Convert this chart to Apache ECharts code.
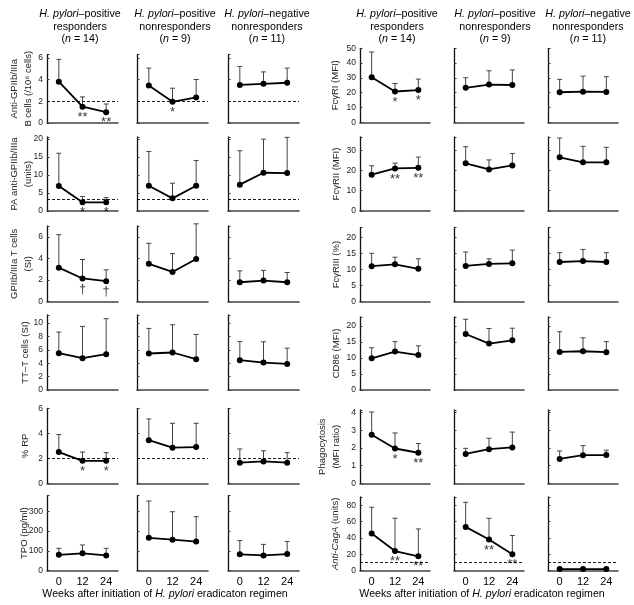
<!DOCTYPE html>
<html>
<head>
<meta charset="utf-8">
<script src="https://cdn.jsdelivr.net/npm/echarts@6/dist/echarts.min.js"></script>
<style>
html, body { margin: 0; padding: 0; background: #fff; }
#chart { width: 634px; height: 605px; }
</style>
</head>
<body>
<div id="chart"></div>
<script>
// x categories (weeks after start of eradication)
const weeks = ['0', '12', '24'];

const headLine1 = ['{i|H. pylori}–positive', '{i|H. pylori}–positive', '{i|H. pylori}–negative'];
const headLine2 = ['responders', 'nonresponders', 'nonresponders'];
const headLine3 = ['({i|n} = 14)', '({i|n} = 9)', '({i|n} = 11)'];
const bottomTitle = 'Weeks after initiation of {i|H. pylori} eradicaton regimen';

// ---- left block ----
const antiBMean = [[3.8, 1.5, 1.0], [3.45, 1.95, 2.35], [3.5, 3.6, 3.7]];
const antiBTop = [[5.85, 2.4, 1.75], [5.05, 3.2, 4.0], [5.2, 4.7, 5.05]];
const antiBMarks = [['', '**', '**'], ['', '*', ''], ['', '', '']];
const antiBTicks = [0, 2, 4, 6];

const paMean = [[6.9, 2.4, 2.4], [7.0, 3.5, 7.0], [7.3, 10.6, 10.5]];
const paTop = [[16.0, 4.0, 3.7], [16.5, 7.7, 14.0], [16.7, 19.9, 20.4]];
const paMarks = [['', '*', '*'], ['', '', ''], ['', '', '']];
const paTicks = [0, 5, 10, 15, 20];

const gpTMean = [[3.15, 2.15, 1.9], [3.5, 2.75, 3.95], [1.8, 1.95, 1.8]];
const gpTTop = [[6.2, 3.9, 2.95], [5.4, 4.45, 7.2], [2.85, 2.9, 2.7]];
const gpTMarks = [['', '†', '†'], ['', '', ''], ['', '', '']];
const gpTTicks = [0, 2, 4, 6];

const ttMean = [[5.5, 4.75, 5.35], [5.45, 5.6, 4.6], [4.45, 4.1, 3.9]];
const ttTop = [[8.65, 9.5, 10.65], [9.2, 9.75, 8.3], [7.25, 7.2, 6.25]];
const ttTicks = [0, 2, 4, 6, 8, 10];

const rpMean = [[2.5, 1.8, 1.8], [3.45, 2.85, 2.9], [1.65, 1.75, 1.65]];
const rpTop = [[3.9, 2.5, 2.45], [5.15, 4.8, 4.8], [2.75, 2.6, 2.45]];
const rpMarks = [['', '*', '*'], ['', '', ''], ['', '', '']];
const rpTicks = [0, 2, 4, 6];

const tpoMean = [[80, 88, 77], [166, 157, 147], [83, 77, 84]];
const tpoTop = [[113, 130, 113], [352, 298, 273], [152, 133, 148]];
const tpoTicks = [0, 100, 200, 300];

// ---- right block ----
const fc1Mean = [[30.5, 20.8, 21.8], [23.3, 25.5, 25.2], [20.3, 20.7, 20.5]];
const fc1Top = [[47.5, 26.2, 29.2], [30.1, 34.8, 35.4], [29, 31.2, 30.8]];
const fc1Marks = [['', '*', '*'], ['', '', ''], ['', '', '']];
const fc1Ticks = [0, 10, 20, 30, 40, 50];

const fc2Mean = [[17.9, 21, 21.3], [23.5, 20.5, 22.5], [26.5, 24, 24]];
const fc2Top = [[22.3, 23.6, 26.6], [31.7, 25.2, 28.4], [36, 31.9, 31.4]];
const fc2Marks = [['', '**', '**'], ['', '', ''], ['', '', '']];
const fc2Ticks = [0, 10, 20, 30];

const fc3Mean = [[11, 11.6, 10.2], [11.1, 11.7, 11.9], [12.3, 12.6, 12.3]];
const fc3Top = [[15, 13.8, 13.3], [15.4, 13.3, 16], [15.2, 16.2, 15.2]];
const fc3Ticks = [0, 5, 10, 15, 20];

const cd86Mean = [[9.9, 12, 10.9], [17.5, 14.5, 15.5], [11.9, 12.1, 11.8]];
const cd86Top = [[13.2, 15.1, 13.8], [22.1, 19.2, 19.3], [18.2, 16.3, 15.1]];
const cd86Ticks = [0, 5, 10, 15, 20];

const phMean = [[2.75, 1.97, 1.73], [1.66, 1.93, 2.03], [1.38, 1.59, 1.6]];
const phTop = [[4.04, 2.85, 2.25], [1.98, 2.55, 2.9], [1.83, 2.13, 1.87]];
const phMarks = [['', '*', '**'], ['', '', ''], ['', '', '']];
const phTicks = [0, 1, 2, 3, 4];

const cagMean = [[45.5, 24, 17.5], [53.5, 38, 20], [2, 2, 2]];
const cagTop = [[77.5, 64, 51], [83.5, 64, 43], [3, 3, 3]];
const cagMarks = [['', '**', '**'], ['', '**', '**'], ['', '', '']];
const cagTicks = [0, 20, 40, 60, 80];

const noMarks = [['', '', ''], ['', '', ''], ['', '', '']];

// panel placement (pixels)
const colLeft = [[47, 137, 228], [360, 454, 548]];
const colWidth = [71, 70];
const rowTop = [[54.5, 137, 226, 315, 408.3, 495.5], [48.3, 137, 227.5, 317, 410, 497]];
const rowBottom = [[123, 211, 301.7, 390, 483.3, 570.7], [122.3, 211, 301.7, 390, 483.3, 570.7]];
const headCenter = [[80, 175, 267], [397, 495, 588]];

const measures = [
  {half: 0, row: 0, name: 'Anti-GPIIb/IIIa\nB cells (/10⁶ cells)', gap: 12, max: 6.3, ticks: antiBTicks, mean: antiBMean, top: antiBTop, marks: antiBMarks, ref: 2},
  {half: 0, row: 1, name: 'PA anti-GPIIb/IIIa\n(units)', gap: 12, max: 20.5, ticks: paTicks, mean: paMean, top: paTop, marks: paMarks, ref: 3.2},
  {half: 0, row: 2, name: 'GPIIb/IIIa T cells\n(SI)', gap: 12, max: 7, ticks: gpTTicks, mean: gpTMean, top: gpTTop, marks: gpTMarks},
  {half: 0, row: 3, name: 'TT–T cells (SI)', gap: 15, max: 11.2, ticks: ttTicks, mean: ttMean, top: ttTop, marks: noMarks},
  {half: 0, row: 4, name: '% RP', gap: 15, max: 6, ticks: rpTicks, mean: rpMean, top: rpTop, marks: rpMarks, ref: 2},
  {half: 0, row: 5, name: 'TPO (pg/ml)', gap: 16, max: 380, ticks: tpoTicks, mean: tpoMean, top: tpoTop, marks: noMarks},
  {half: 1, row: 0, name: 'FcγRI (MFI)', gap: 18, max: 50, ticks: fc1Ticks, mean: fc1Mean, top: fc1Top, marks: fc1Marks},
  {half: 1, row: 1, name: 'FcγRII (MFI)', gap: 17, max: 36.5, ticks: fc2Ticks, mean: fc2Mean, top: fc2Top, marks: fc2Marks},
  {half: 1, row: 2, name: 'FcγRIII (%)', gap: 17, max: 23, ticks: fc3Ticks, mean: fc3Mean, top: fc3Top, marks: noMarks},
  {half: 1, row: 3, name: 'CD86 (MFI)', gap: 17, max: 22.8, ticks: cd86Ticks, mean: cd86Mean, top: cd86Top, marks: noMarks},
  {half: 1, row: 4, name: 'Phagocytosis\n(MFI ratio)', gap: 17, max: 4.15, ticks: phTicks, mean: phMean, top: phTop, marks: phMarks},
  {half: 1, row: 5, name: '{i|Anti-CagA} (units)', gap: 18, max: 90, ticks: cagTicks, mean: cagMean, top: cagTop, marks: cagMarks, ref: 10}
];

const FONT = '"Liberation Sans", Arial, sans-serif';
const italic = {fontStyle: 'italic', fontFamily: FONT};

const grid = [], xAxis = [], yAxis = [], series = [];

measures.forEach(m => {
  for (let c = 0; c < 3; c++) {
    const k = grid.length;
    const top = rowTop[m.half][m.row];
    const bottom = rowBottom[m.half][m.row];
    grid.push({left: colLeft[m.half][c], width: colWidth[m.half], top: top, height: bottom - top});
    xAxis.push({
      gridIndex: k, type: 'category', data: weeks, boundaryGap: true,
      axisLine: {lineStyle: {color: '#444', width: 1.6}},
      axisTick: {show: false},
      axisLabel: {show: m.row === 5, color: '#000', fontSize: 11, fontFamily: FONT, margin: 6}
    });
    yAxis.push({
      gridIndex: k, type: 'value', min: 0, max: m.max, interval: m.ticks[1] - m.ticks[0],
      splitLine: {show: false},
      axisLine: {show: true, lineStyle: {color: '#111', width: 1.3}},
      axisTick: {show: true, inside: true, length: 2.5, lineStyle: {color: '#333'}},
      axisLabel: {
        show: c === 0, color: '#222', fontSize: 8.5, fontFamily: FONT, margin: 4,
        formatter: v => (m.ticks.indexOf(v) >= 0 ? String(v) : '')
      },
      name: c === 0 ? m.name : '',
      nameLocation: 'middle', nameRotate: 90, nameGap: m.gap, nameMoveOverlap: false,
      nameTextStyle: {color: '#222', fontSize: 9.5, fontFamily: FONT, lineHeight: 14,
        rich: {i: Object.assign({fontSize: 9.5, color: '#222'}, italic)}}
    });

    // upper error bars
    series.push({
      type: 'custom', xAxisIndex: k, yAxisIndex: k, z: 1, silent: true,
      data: m.mean[c].map((v, i) => [i, v, m.top[c][i]]),
      renderItem: (params, api) => {
        const p = api.coord([api.value(0), api.value(1)]);
        const t = api.coord([api.value(0), api.value(2)]);
        const st = {stroke: '#444', lineWidth: 1};
        return {type: 'group', children: [
          {type: 'line', shape: {x1: p[0], y1: p[1], x2: t[0], y2: t[1]}, style: st},
          {type: 'line', shape: {x1: t[0] - 2.5, y1: t[1], x2: t[0] + 2.5, y2: t[1]}, style: st}
        ]};
      }
    });

    const line = {
      type: 'line', xAxisIndex: k, yAxisIndex: k, z: 3, silent: true,
      data: m.mean[c],
      symbol: 'circle', symbolSize: 6,
      itemStyle: {color: '#000'},
      lineStyle: {color: '#000', width: 1.8}
    };
    if (m.ref !== undefined) {
      line.markLine = {
        silent: true, symbol: 'none', label: {show: false},
        lineStyle: {type: [3, 2], color: '#000', width: 0.9},
        data: [{yAxis: m.ref}]
      };
    }
    series.push(line);

    // significance marks under the points
    const marks = [];
    m.marks[c].forEach((s, i) => { if (s) marks.push({value: [i, m.mean[c][i]], name: s}); });
    if (marks.length) {
      series.push({
        type: 'scatter', xAxisIndex: k, yAxisIndex: k, z: 4, silent: true,
        symbol: 'circle', symbolSize: 2, itemStyle: {color: 'rgba(0,0,0,0)'},
        data: marks,
        label: {show: true, position: 'bottom', distance: 3, formatter: '{b}',
          color: '#000', fontSize: 13, fontFamily: FONT},
        labelLayout: {hideOverlap: false}
      });
    }
  }
});

// column headers and bottom captions
const graphic = [];
const textEl = (text, x, y, size) => ({
  type: 'text', x: x, y: y, silent: true,
  style: {text: text, fill: '#000', font: size + 'px ' + FONT, align: 'center', verticalAlign: 'middle',
    rich: {i: Object.assign({fontSize: size, fill: '#000'}, italic)}}
});
for (let h = 0; h < 2; h++) {
  for (let c = 0; c < 3; c++) {
    const x = headCenter[h][c];
    graphic.push(textEl(headLine1[c], x, 14, 10.7));
    graphic.push(textEl(headLine2[c], x, 27, 10.7));
    graphic.push(textEl(headLine3[c], x, 39, 10.7));
  }
}
graphic.push(textEl(bottomTitle, 165, 594, 10.6));
graphic.push(textEl(bottomTitle, 482, 594, 10.6));

const chart = echarts.init(document.getElementById('chart'));
chart.setOption({
  animation: false,
  backgroundColor: '#fff',
  grid: grid,
  xAxis: xAxis,
  yAxis: yAxis,
  series: series,
  graphic: graphic
});
</script>
</body>
</html>
